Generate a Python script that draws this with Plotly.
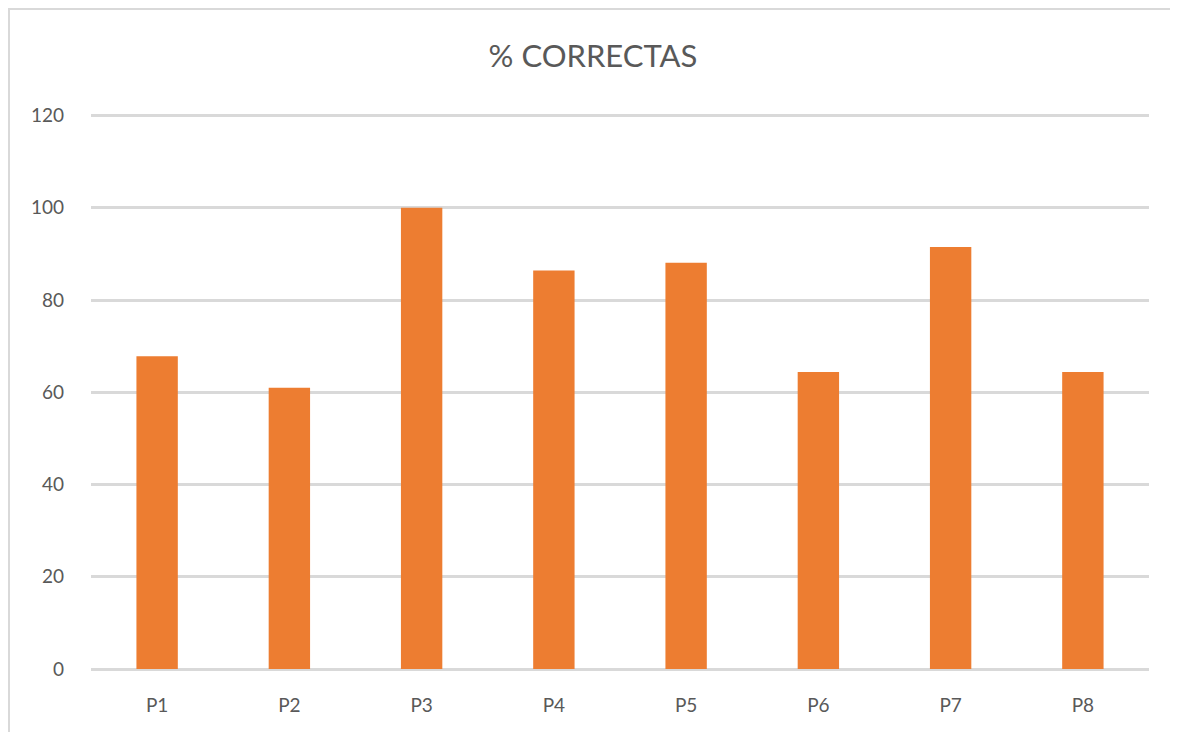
import plotly.graph_objects as go

categories = ["P1", "P2", "P3", "P4", "P5", "P6", "P7", "P8"]
values = [67.8, 61.0, 100.0, 86.4, 88.1, 64.4, 91.5, 64.4]
y_ticks = [0, 20, 40, 60, 80, 100, 120]
title_text = "% CORRECTAS"

# page offset of 8px (body margin) is compensated
W, H = 1170, 724
ml, mt = 83, 103
pw, ph = 1058, 558
mr = W - ml - pw
mb = H - mt - ph

fig = go.Figure(go.Bar(x=categories, y=values, marker=dict(color="#ED7D31", line=dict(width=0))))

fig.update_layout(
    width=W, height=H,
    margin=dict(l=ml, r=mr, t=mt, b=mb, autoexpand=False),
    paper_bgcolor="white", plot_bgcolor="white",
    bargap=0.687,
    showlegend=False,
    font=dict(family="Lato, Open Sans, sans-serif", color="#595959"),
    title=dict(text=title_text, x=0.5, xanchor="center", y=1 - 48 / H, yanchor="middle",
               font=dict(size=31, color="#595959", family="Lato, sans-serif")),
    xaxis=dict(showgrid=False, showline=False, ticks="", tickfont=dict(size=19, color="#595959"),
               ticklabelstandoff=23),
    yaxis=dict(range=[0, 121], tickvals=y_ticks, showgrid=True, gridcolor="#D9D9D9", gridwidth=2.5,
               zeroline=True, zerolinecolor="#D9D9D9", zerolinewidth=2.5, showline=False, ticks="",
               tickfont=dict(size=19, color="#595959"), ticklabelstandoff=26),
    shapes=[dict(type="rect", xref="paper", yref="paper",
                 x0=(1 - ml) / pw, x1=(1164 - ml) / pw,
                 y0=-(mb + 20) / ph, y1=1 + (mt - 1) / ph,
                 line=dict(color="#D9D9D9", width=2), fillcolor="rgba(0,0,0,0)", layer="below")],
)

fig.write_html("out.html")
